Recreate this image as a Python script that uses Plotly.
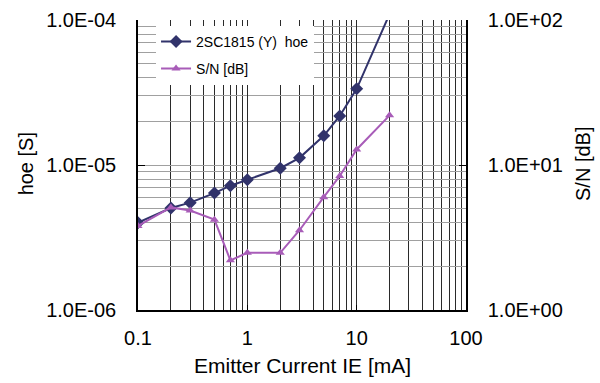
import plotly.graph_objects as go

# ---- data ----
ie_ma = [0.1, 0.2, 0.3, 0.5, 0.7, 1, 2, 3, 5, 7, 10, 20]
hoe_s = [4.0e-6, 5.05e-6, 5.5e-6, 6.4e-6, 7.2e-6, 7.9e-6, 9.5e-6, 1.12e-5, 1.59e-5, 2.18e-5, 3.35e-5, 1.1e-4]
sn_db = [3.8, 5.1, 4.85, 4.2, 2.2, 2.48, 2.48, 3.55, 6.0, 8.4, 12.8, 22.0]

series_names = ["2SC1815 (Y)  hoe", "S/N [dB]"]
x_tickvals = [0.1, 1, 10, 100]
x_ticktext = ["0.1", "1", "10", "100"]
y1_tickvals = [1e-6, 1e-5, 1e-4]
y1_ticktext = ["1.0E-06", "1.0E-05", "1.0E-04"]
y2_tickvals = [1, 10, 100]
y2_ticktext = ["1.0E+00", "1.0E+01", "1.0E+02"]
x_title = "Emitter Current IE [mA]"
y1_title = "hoe [S]"
y2_title = "S/N [dB]"

FONT = "Liberation Sans, Arial, sans-serif"
NAVY = "#31336B"
PURPLE = "#A85CB8"

fig = go.Figure()
fig.add_trace(go.Scatter(
    x=ie_ma, y=hoe_s, name=series_names[0], mode="lines+markers",
    line=dict(color=NAVY, width=2),
    marker=dict(symbol="diamond", size=10, color=NAVY),
    legendgroup="a", cliponaxis=True,
))
fig.add_trace(go.Scatter(
    x=ie_ma, y=sn_db, name=series_names[1], mode="lines+markers",
    line=dict(color=PURPLE, width=2),
    marker=dict(symbol="triangle-up", size=8, color=PURPLE),
    yaxis="y2", legendgroup="b",
))

fig.update_layout(
    width=600, height=383,
    margin=dict(l=138, r=134, t=20, b=73),
    paper_bgcolor="white", plot_bgcolor="white",
    font=dict(family=FONT, color="black", size=20),
    showlegend=True,
    legend=dict(
        x=0.055, y=0.98, xanchor="left", yanchor="top",
        bgcolor="white", borderwidth=0,
        font=dict(family=FONT, size=14, color="black"),
        traceorder="grouped", tracegroupgap=6,
    ),
    xaxis=dict(
        type="log", range=[-1, 2], automargin=False,
        tickvals=x_tickvals, ticktext=x_ticktext,
        showgrid=True, gridcolor="#2A2A2A", gridwidth=1,
        minor=dict(dtick="D1", showgrid=True, gridcolor="#2A2A2A", gridwidth=1, ticks=""),
        showline=True, linecolor="black", linewidth=1.5,
        ticks="inside", ticklen=5, tickcolor="black",
        ticklabelstandoff=9,
        tickfont=dict(size=20),
        zeroline=False,
    ),
    yaxis=dict(
        type="log", range=[-6, -4], automargin=False,
        tickvals=y1_tickvals, ticktext=y1_ticktext,
        showgrid=True, gridcolor="#A0A0A0", gridwidth=1,
        minor=dict(dtick="D1", showgrid=True, gridcolor="#A0A0A0", gridwidth=1, ticks=""),
        showline=True, linecolor="black", linewidth=1.5,
        ticks="inside", ticklen=7, tickcolor="black",
        ticklabelstandoff=16,
        tickfont=dict(size=20),
        zeroline=False,
    ),
    yaxis2=dict(
        type="log", range=[0, 2], overlaying="y", side="right", automargin=False,
        tickvals=y2_tickvals, ticktext=y2_ticktext,
        showgrid=False,
        showline=True, linecolor="black", linewidth=1.5,
        ticks="inside", ticklen=7, tickcolor="black",
        ticklabelstandoff=16,
        tickfont=dict(size=20),
        zeroline=False,
    ),
    annotations=[
        dict(text=x_title, xref="paper", yref="paper", x=0.5, y=-0.19,
             xanchor="center", yanchor="middle", showarrow=False,
             font=dict(size=21)),
        dict(text=y1_title, xref="paper", yref="paper", x=-0.342, y=0.505,
             xanchor="center", yanchor="middle", showarrow=False, textangle=-90,
             font=dict(size=20)),
        dict(text=y2_title, xref="paper", yref="paper", x=1.355, y=0.505,
             xanchor="center", yanchor="middle", showarrow=False, textangle=-90,
             font=dict(size=20)),
    ],
)

fig.write_html(
    "out.html",
    config={"displayModeBar": False},
    post_script="document.body.style.margin='0';document.body.style.overflow='hidden';",
)
